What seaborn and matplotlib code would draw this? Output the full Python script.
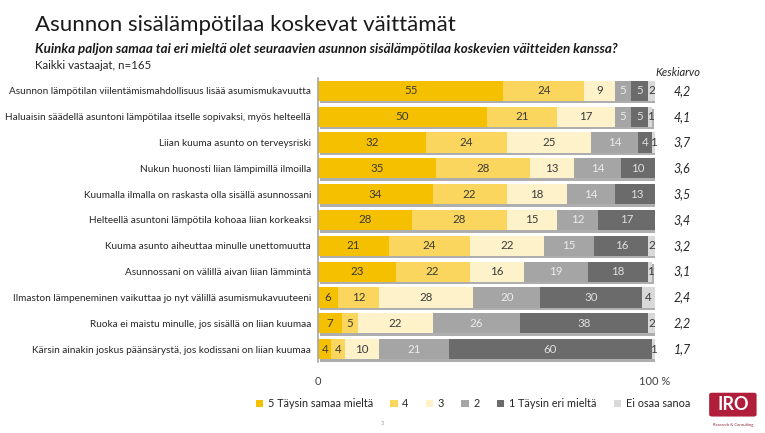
import matplotlib
matplotlib.use("Agg")
import matplotlib.pyplot as plt
import matplotlib.patheffects as pe
from matplotlib.patches import Patch, FancyBboxPatch
import numpy as np
import pandas as pd
import seaborn as sns

STATEMENTS = [
	"Asunnon lämpötilan viilentämismahdollisuus lisää asumismukavuutta",
	"Haluaisin säädellä asuntoni lämpötilaa itselle sopivaksi, myös helteellä",
	"Liian kuuma asunto on terveysriski",
	"Nukun huonosti liian lämpimillä ilmoilla",
	"Kuumalla ilmalla on raskasta olla sisällä asunnossani",
	"Helteellä asuntoni lämpötila kohoaa liian korkeaksi",
	"Kuuma asunto aiheuttaa minulle unettomuutta",
	"Asunnossani on välillä aivan liian lämmintä",
	"Ilmaston lämpeneminen vaikuttaa jo nyt välillä asumismukavuuteeni",
	"Ruoka ei maistu minulle, jos sisällä on liian kuumaa",
	"Kärsin ainakin joskus päänsärystä, jos kodissani on liian kuumaa",
]
CATEGORIES = ["5 Täysin samaa mieltä", "4", "3", "2", "1 Täysin eri mieltä", "Ei osaa sanoa"]
V5 = [55, 50, 32, 35, 34, 28, 21, 23, 6, 7, 4]
V4 = [24, 21, 24, 28, 22, 28, 24, 22, 12, 5, 4]
V3 = [9, 17, 25, 13, 18, 15, 22, 16, 28, 22, 10]
V2 = [5, 5, 14, 14, 14, 12, 15, 19, 20, 26, 21]
V1 = [5, 5, 4, 10, 13, 17, 16, 18, 30, 38, 60]
VEOS = [2, 1, 1, 0, 0, 0, 2, 1, 4, 2, 1]
MEANS = [4.2, 4.1, 3.7, 3.6, 3.5, 3.4, 3.2, 3.1, 2.4, 2.2, 1.7]

COLORS = ["#F5C000", "#FAD65E", "#FEF2CB", "#A5A5A5", "#6B6B6B", "#D9D9D9"]
TEXT_COLORS = ["#3a3a3a", "#3a3a3a", "#3a3a3a", "#ececec", "#e0e0e0", "#3a3a3a"]

values = np.array([V5, V4, V3, V2, V1, VEOS], dtype=float)
cum = values.cumsum(axis=0)
df = pd.DataFrame({"statement": STATEMENTS})
for i in range(len(CATEGORIES)):
	df[f"cum{i}"] = cum[i]

sns.set_theme(style="white")
plt.rcParams["font.family"] = ["Lato", "DejaVu Sans"]

fig = plt.figure(figsize=(7.65, 4.33), dpi=100)
ax = fig.add_axes([0.4157, 0.164, 0.4405, 0.656])

# draw cumulative totals from the widest down, so they stack visually
for i in range(len(CATEGORIES) - 1, -1, -1):
	n_before = len(ax.patches)
	sns.barplot(data=df, x=f"cum{i}", y="statement", color=COLORS[i], orient="h",
				saturation=1, width=0.78, linewidth=0, ax=ax)
	if i == len(CATEGORIES) - 1:
		for p in ax.patches[n_before:]:
			p.set_path_effects([pe.SimplePatchShadow(offset=(1.5, -1.8), shadow_rgbFace="#8c8c8c", alpha=0.7), pe.Normal()])

# segment labels
for r in range(len(STATEMENTS)):
	for i in range(len(CATEGORIES)):
		v = values[i, r]
		if v <= 0:
			continue
		center = cum[i, r] - v / 2
		ax.text(center, r, f"{int(v)}", ha="center", va="center", fontsize=8.3, color=TEXT_COLORS[i])

ax.set_xlim(0, 100)
ax.set_xlabel("")
ax.set_ylabel("")
ax.set_xticks([0, 100])
ax.set_xticklabels(["0", "100 %"], fontsize=8, color="#404040")
ax.tick_params(axis="x", length=0, pad=10)
ax.tick_params(axis="y", length=0, pad=5, labelsize=7.2, labelcolor="#262626")
for s in ["top", "right", "bottom"]:
	ax.spines[s].set_visible(False)
ax.spines["left"].set_color("#a6a6a6")
ax.spines["left"].set_linewidth(1.2)

# means column
for r, m in enumerate(MEANS):
	ax.text(1.08, r, f"{m:.1f}".replace(".", ","), transform=ax.get_yaxis_transform(),
			ha="center", va="center", fontsize=9, style="italic", color="#262626")
fig.text(0.857, 0.832, "Keskiarvo", fontsize=8, style="italic", color="#262626", va="center")

# titles
fig.text(0.046, 0.943, "Asunnon sisälämpötilaa koskevat väittämät", fontsize=16, color="#1a1a1a", va="center")
fig.text(0.046, 0.886, "Kuinka paljon samaa tai eri mieltä olet seuraavien asunnon sisälämpötilaa koskevien väitteiden kanssa?",
		 fontsize=9.6, style="italic", fontweight="bold", color="#1a1a1a", va="center")
fig.text(0.046, 0.848, "Kaikki vastaajat, n=165", fontsize=8.3, color="#262626", va="center")

# legend
handles = [Patch(facecolor=c, edgecolor="none") for c in COLORS]
fig.legend(handles, CATEGORIES, loc="center", bbox_to_anchor=(0.618, 0.067), ncol=6, frameon=False,
		   fontsize=7.8, handlelength=0.7, handleheight=0.7, handletextpad=0.4, columnspacing=1.6)

fig.text(0.5, 0.022, "3", fontsize=4, color="#999999", ha="center", va="center")

# logo
logo = FancyBboxPatch((0.927, 0.038), 0.062, 0.055, boxstyle="round,pad=0.0,rounding_size=0.004",
					  transform=fig.transFigure, facecolor="#B01E3C", edgecolor="none")
fig.add_artist(logo)
fig.text(0.958, 0.066, "IRO", fontsize=13, fontweight="bold", color="white", ha="center", va="center")
fig.text(0.958, 0.018, "Research & Consulting", fontsize=3, color="#8a2a3a", ha="center", va="center")

fig.savefig("out.png", dpi=100)
